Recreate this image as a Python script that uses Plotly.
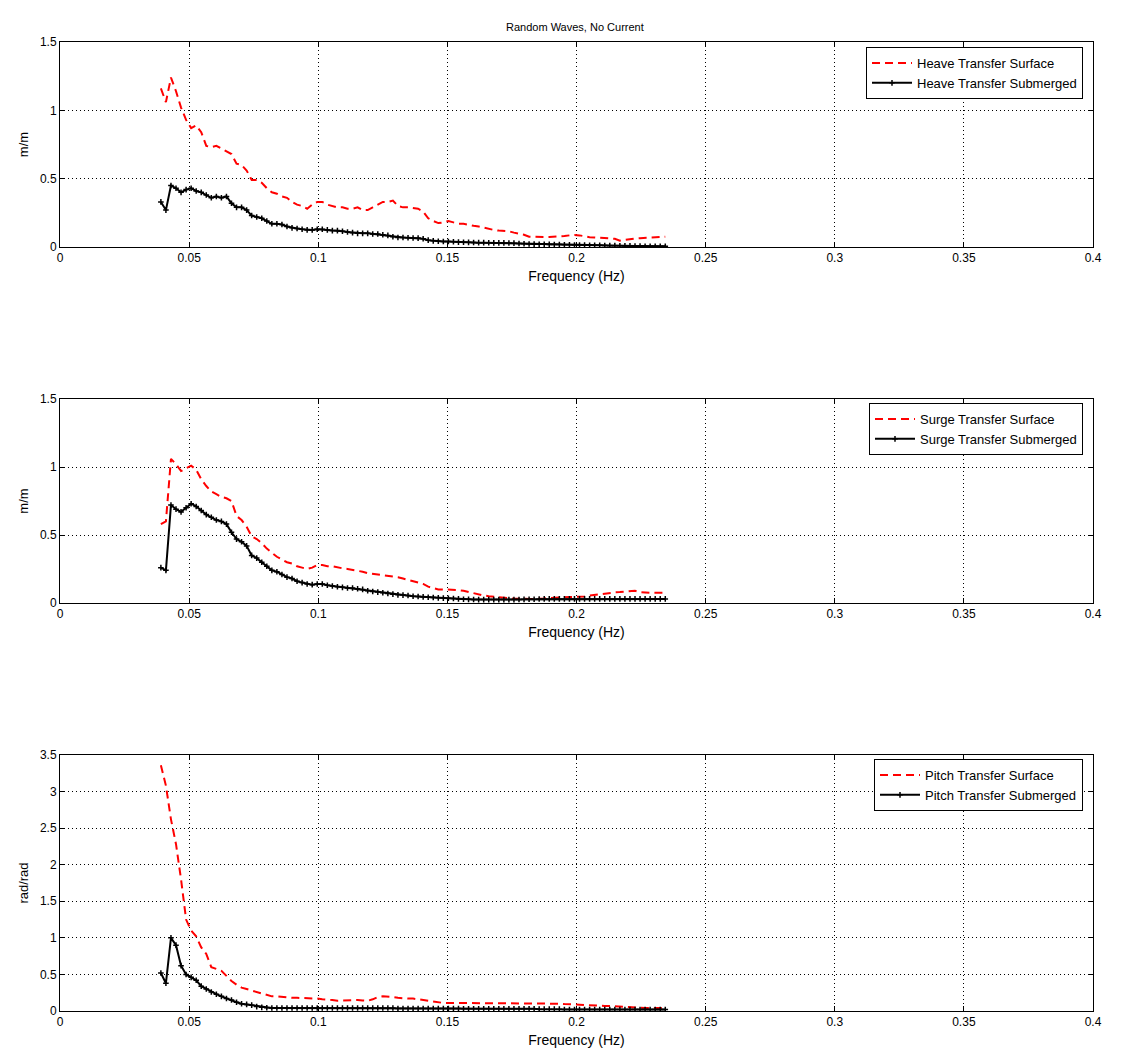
import plotly.graph_objects as go

# ---------------- data ----------------
df = 1.0 / 512.0
n_points = 101
freq = [round(20 * df + i * df, 6) for i in range(n_points)]

heave_surface = [
    1.16, 1.06, 1.24, 1.14, 1.02, 0.93, 0.87, 0.89, 0.84, 0.74,
    0.73, 0.74, 0.72, 0.70, 0.68, 0.61, 0.60, 0.56, 0.49, 0.49,
    0.47, 0.43, 0.40, 0.39, 0.37, 0.36, 0.33, 0.31, 0.30, 0.28,
    0.31, 0.33, 0.33, 0.31, 0.30, 0.29, 0.29, 0.28, 0.28, 0.29,
    0.27, 0.27, 0.29, 0.31, 0.33, 0.33, 0.34, 0.30, 0.29, 0.29,
    0.285, 0.28, 0.26, 0.21, 0.19, 0.175, 0.18, 0.19, 0.18, 0.17,
    0.17, 0.16, 0.155, 0.15, 0.14, 0.13, 0.125, 0.12, 0.12, 0.115,
    0.105, 0.10, 0.09, 0.075, 0.073, 0.073, 0.073, 0.074, 0.075, 0.076,
    0.08, 0.085, 0.088, 0.085, 0.076, 0.072, 0.07, 0.068, 0.067, 0.066,
    0.06, 0.046, 0.052, 0.058, 0.062, 0.064, 0.066, 0.068, 0.07, 0.072,
    0.075,
]
heave_submerged = [
    0.33, 0.27, 0.45, 0.43, 0.40, 0.42, 0.43, 0.41, 0.40, 0.38,
    0.36, 0.37, 0.36, 0.37, 0.32, 0.29, 0.29, 0.27, 0.23, 0.22,
    0.21, 0.19, 0.17, 0.17, 0.165, 0.15, 0.14, 0.135, 0.13, 0.125,
    0.125, 0.13, 0.13, 0.125, 0.12, 0.12, 0.115, 0.11, 0.105, 0.10,
    0.10, 0.10, 0.095, 0.095, 0.09, 0.085, 0.075, 0.07, 0.07, 0.068,
    0.066, 0.065, 0.06, 0.05, 0.045, 0.042, 0.04, 0.04, 0.038, 0.036,
    0.035, 0.034, 0.033, 0.032, 0.032, 0.031, 0.03, 0.03, 0.03, 0.029,
    0.028, 0.026, 0.024, 0.022, 0.021, 0.02, 0.02, 0.019, 0.018, 0.018,
    0.017, 0.016, 0.015, 0.015, 0.014, 0.013, 0.012, 0.012, 0.011, 0.01,
    0.01, 0.009, 0.008, 0.008, 0.007, 0.007, 0.006, 0.006, 0.005, 0.005,
    0.005,
]
surge_surface = [
    0.58, 0.60, 1.06, 1.02, 0.97, 0.99, 1.01, 0.98, 0.91, 0.86,
    0.82, 0.80, 0.78, 0.77, 0.75, 0.64, 0.61, 0.56, 0.49, 0.47,
    0.44, 0.40, 0.37, 0.34, 0.32, 0.30, 0.29, 0.27, 0.26, 0.25,
    0.26, 0.28, 0.28, 0.27, 0.27, 0.26, 0.255, 0.25, 0.245, 0.24,
    0.23, 0.22, 0.215, 0.21, 0.21, 0.205, 0.20, 0.19, 0.18, 0.17,
    0.16, 0.15, 0.14, 0.12, 0.11, 0.10, 0.10, 0.10, 0.098, 0.095,
    0.09, 0.08, 0.07, 0.06, 0.055, 0.05, 0.045, 0.04, 0.038, 0.035,
    0.032, 0.03, 0.03, 0.03, 0.03, 0.03, 0.033, 0.037, 0.04, 0.042,
    0.045, 0.045, 0.045, 0.045, 0.048, 0.055, 0.06, 0.065, 0.072, 0.076,
    0.078, 0.08, 0.085, 0.09, 0.09, 0.08, 0.075, 0.075, 0.075, 0.075,
    0.075,
]
surge_submerged = [
    0.26, 0.24, 0.72, 0.69, 0.67, 0.70, 0.73, 0.71, 0.68, 0.65,
    0.63, 0.61, 0.60, 0.58, 0.52, 0.47, 0.45, 0.42, 0.35, 0.33,
    0.30, 0.27, 0.24, 0.23, 0.21, 0.19, 0.18, 0.16, 0.15, 0.14,
    0.135, 0.14, 0.14, 0.13, 0.125, 0.12, 0.115, 0.11, 0.11, 0.105,
    0.10, 0.09, 0.085, 0.08, 0.075, 0.07, 0.065, 0.06, 0.058, 0.055,
    0.05, 0.048, 0.045, 0.042, 0.04, 0.038, 0.036, 0.035, 0.033, 0.03,
    0.028, 0.027, 0.026, 0.025, 0.025, 0.025, 0.025, 0.025, 0.025, 0.025,
    0.025, 0.026, 0.027, 0.028, 0.028, 0.029, 0.03, 0.03, 0.03, 0.03,
    0.03, 0.03, 0.03, 0.03, 0.03, 0.03, 0.03, 0.03, 0.03, 0.03,
    0.03, 0.03, 0.03, 0.03, 0.03, 0.03, 0.03, 0.03, 0.03, 0.03,
    0.03,
]
pitch_surface = [
    3.36, 3.08, 2.62, 2.28, 1.80, 1.25, 1.10, 1.02, 0.87, 0.78,
    0.60, 0.57, 0.55, 0.48, 0.41, 0.36, 0.32, 0.30, 0.28, 0.26,
    0.24, 0.22, 0.20, 0.20, 0.19, 0.18, 0.18, 0.18, 0.18, 0.18,
    0.18, 0.17, 0.16, 0.16, 0.15, 0.14, 0.145, 0.15, 0.15, 0.15,
    0.145, 0.14, 0.16, 0.19, 0.20, 0.20, 0.19, 0.18, 0.17, 0.17,
    0.17, 0.16, 0.15, 0.14, 0.13, 0.115, 0.11, 0.11, 0.11, 0.11,
    0.11, 0.11, 0.11, 0.11, 0.11, 0.11, 0.11, 0.11, 0.11, 0.11,
    0.11, 0.105, 0.105, 0.10, 0.10, 0.10, 0.10, 0.10, 0.10, 0.10,
    0.095, 0.095, 0.09, 0.085, 0.08, 0.075, 0.07, 0.07, 0.07, 0.07,
    0.065, 0.055, 0.05, 0.05, 0.05, 0.045, 0.04, 0.04, 0.04, 0.04,
    0.04,
]
pitch_submerged = [
    0.52, 0.38, 1.00, 0.90, 0.62, 0.50, 0.46, 0.42, 0.34, 0.30,
    0.26, 0.23, 0.20, 0.17, 0.15, 0.12, 0.10, 0.09, 0.08, 0.06,
    0.05, 0.045, 0.04, 0.04, 0.04, 0.04, 0.04, 0.04, 0.04, 0.04,
    0.04, 0.04, 0.04, 0.04, 0.04, 0.04, 0.04, 0.04, 0.04, 0.04,
    0.04, 0.04, 0.04, 0.04, 0.04, 0.04, 0.04, 0.035, 0.035, 0.035,
    0.035, 0.035, 0.035, 0.035, 0.035, 0.035, 0.035, 0.035, 0.035, 0.035,
    0.03, 0.03, 0.03, 0.03, 0.03, 0.03, 0.03, 0.03, 0.03, 0.03,
    0.03, 0.03, 0.03, 0.03, 0.03, 0.025, 0.025, 0.025, 0.025, 0.025,
    0.02, 0.02, 0.02, 0.02, 0.02, 0.02, 0.02, 0.02, 0.02, 0.02,
    0.02, 0.02, 0.02, 0.02, 0.02, 0.02, 0.02, 0.02, 0.02, 0.02,
    0.02,
]

x_ticks = [0, 0.05, 0.1, 0.15, 0.2, 0.25, 0.3, 0.35, 0.4]
x_tick_text = ["0", "0.05", "0.1", "0.15", "0.2", "0.25", "0.3", "0.35", "0.4"]
y_ticks_small = [0, 0.5, 1, 1.5]
y_ticks_small_text = ["0", "0.5", "1", "1.5"]
y_ticks_pitch = [0, 0.5, 1, 1.5, 2, 2.5, 3, 3.5]
y_ticks_pitch_text = ["0", "0.5", "1", "1.5", "2", "2.5", "3", "3.5"]

title_text = "Random Waves, No Current"
panels = [
    ("Heave Transfer Surface", "Heave Transfer Submerged", heave_surface, heave_submerged,
     "m/m", 1.5, y_ticks_small, y_ticks_small_text),
    ("Surge Transfer Surface", "Surge Transfer Submerged", surge_surface, surge_submerged,
     "m/m", 1.5, y_ticks_small, y_ticks_small_text),
    ("Pitch Transfer Surface", "Pitch Transfer Submerged", pitch_surface, pitch_submerged,
     "rad/rad", 3.5, y_ticks_pitch, y_ticks_pitch_text),
]

# ---------------- layout geometry ----------------
W, H = 1140, 1058
x_dom = [60 / W, 1093 / W]
y_pix = [(42, 247), (399, 603), (755, 1011)]
legend_pos = [(1083, 47), (1083, 403), (1083, 759)]

FONT = "Liberation Sans, Arial, Helvetica, sans-serif"
fig = go.Figure()
layout = dict(
    width=W, height=H,
    margin=dict(l=0, r=0, t=0, b=0, autoexpand=False),
    paper_bgcolor="white", plot_bgcolor="white",
    font=dict(family=FONT, size=12, color="black"),
    showlegend=True,
)

for k, (n_s, n_m, ys, ym, ylab, ymax, yt, ytt) in enumerate(panels):
    sfx = "" if k == 0 else str(k + 1)
    leg = "legend" if k == 0 else f"legend{k + 1}"
    fig.add_trace(go.Scatter(
        x=freq, y=ys, name=n_s, mode="lines",
        line=dict(color="#ff0000", width=2, dash="8px,5px"),
        xaxis="x" + sfx, yaxis="y" + sfx, legend=leg,
    ))
    fig.add_trace(go.Scatter(
        x=freq, y=ym, name=n_m, mode="lines+markers",
        line=dict(color="black", width=2),
        marker=dict(color="black", size=4, symbol="cross-thin",
                    line=dict(color="black", width=1.5)),
        xaxis="x" + sfx, yaxis="y" + sfx, legend=leg,
    ))
    top, bot = y_pix[k]
    layout["xaxis" + sfx] = dict(
        domain=x_dom, anchor="y" + sfx, range=[0, 0.4], automargin=False,
        tickvals=x_ticks, ticktext=x_tick_text,
        showline=True, linecolor="black", linewidth=1, mirror="ticks",
        ticks="inside", ticklen=5, tickcolor="black",
        showgrid=True, gridcolor="black", gridwidth=1, griddash="1px,3px",
        zeroline=False, tickfont=dict(size=12),
        title=dict(text="Frequency (Hz)", font=dict(size=14), standoff=6),
    )
    layout["yaxis" + sfx] = dict(
        domain=[1 - bot / H, 1 - top / H], anchor="x" + sfx, range=[0, ymax],
        automargin=False,
        tickvals=yt, ticktext=ytt,
        showline=True, linecolor="black", linewidth=1, mirror="ticks",
        ticks="inside", ticklen=5, tickcolor="black",
        showgrid=True, gridcolor="black", gridwidth=1, griddash="1px,3px",
        zeroline=False, tickfont=dict(size=12),
        title=dict(text=ylab, font=dict(size=13), standoff=8),
    )
    lx, ly = legend_pos[k]
    layout[leg] = dict(
        x=lx / W, y=1 - ly / H, xanchor="right", yanchor="top",
        bgcolor="white", bordercolor="black", borderwidth=1,
        font=dict(size=13, family=FONT), itemwidth=40, tracegroupgap=0,
    )

layout["annotations"] = [dict(
    text=title_text, x=575 / W, y=1 - 27 / H, xref="paper", yref="paper",
    showarrow=False, font=dict(size=11, family=FONT), xanchor="center", yanchor="middle",
)]
fig.update_layout(**layout)
fig.write_html("out.html")
